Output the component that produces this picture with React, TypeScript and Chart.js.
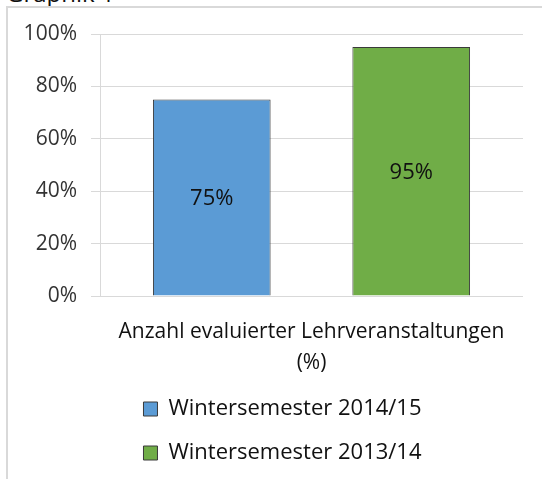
import React, { useEffect, useRef } from "react";
import { Chart, registerables } from "chart.js";

Chart.register(...registerables);

const categories = [["Anzahl evaluierter Lehrveranstaltungen", "(%)"]];
const seriesNames = ["Wintersemester 2014/15", "Wintersemester 2013/14"];
const ws1415 = [75];
const ws1314 = [95];
const yMin = 0;
const yMax = 100;
const yStep = 20;
const caption = "Graphik 1";

const FONT = '"Open Sans", "DejaVu Sans", sans-serif';

const dataLabelPlugin = {
  id: "barValueLabels",
  afterDatasetsDraw(chart: any) {
    const ctx = chart.ctx;
    ctx.save();
    ctx.font = `22px ${FONT}`;
    ctx.fillStyle = "#111";
    ctx.textAlign = "center";
    ctx.textBaseline = "middle";
    chart.data.datasets.forEach((ds: any, i: number) => {
      const meta = chart.getDatasetMeta(i);
      meta.data.forEach((el: any, j: number) => {
        const p = el.getProps(["x", "y", "base"], true);
        ctx.fillText(`${ds.data[j]}%`, p.x, (p.y + p.base) / 2 + 1);
      });
    });
    ctx.restore();
  },
};

const legendShiftPlugin = {
  id: "legendShift",
  afterLayout(chart: any) {
    if (chart.legend) {
      chart.legend.left = 42;
    }
  },
};

export default function App() {
  const ref = useRef<HTMLCanvasElement | null>(null);

  useEffect(() => {
    if (!ref.current) return;
    const chart = new Chart(ref.current, {
      type: "bar",
      data: {
        labels: categories,
        datasets: [
          {
            label: seriesNames[0],
            data: ws1415,
            backgroundColor: "#5b9bd5",
            borderColor: "#3a3a3a",
            borderWidth: 1,
          },
          {
            label: seriesNames[1],
            data: ws1314,
            backgroundColor: "#70ad47",
            borderColor: "#3a3a3a",
            borderWidth: 1,
          },
        ],
      },
      options: {
        responsive: false,
        animation: false,
        layout: { padding: { left: 0, right: 19, top: 34, bottom: 5 } },
        datasets: {
          bar: { categoryPercentage: 0.943, barPercentage: 0.59 },
        },
        scales: {
          x: {
            grid: { display: false, drawTicks: false },
            border: { display: false },
            ticks: {
              padding: 20,
              color: "#111",
              font: { family: FONT, size: 21, lineHeight: 1.5 },
              maxRotation: 0,
            },
            afterFit: (s: any) => {
              s.height = 80;
            },
          },
          y: {
            min: yMin,
            max: yMax,
            ticks: {
              stepSize: yStep,
              padding: 14,
              color: "#333",
              font: { family: FONT, size: 21 },
              callback: (v: any) => `${v}%`,
            },
            grid: { color: "#d9d9d9", tickLength: 9, lineWidth: 1 },
            border: { color: "#d9d9d9", width: 1 },
            afterFit: (s: any) => {
              s.width = 100;
            },
          },
        },
        plugins: {
          legend: {
            position: "bottom",
            labels: {
              boxWidth: 14,
              boxHeight: 14,
              padding: 22,
              color: "#111",
              font: { family: FONT, size: 22 },
            },
          },
          tooltip: { enabled: false },
        },
      },
      plugins: [dataLabelPlugin, legendShiftPlugin],
    });
    return () => chart.destroy();
  }, []);

  return (
    <div style={{ position: "fixed", left: 0, top: 0, width: 542, height: 479, background: "#fff", overflow: "hidden" }}>
      <div
        style={{
          position: "absolute",
          left: 6,
          top: -19,
          fontFamily: FONT,
          fontSize: 24,
          lineHeight: "24px",
          color: "#111",
          whiteSpace: "nowrap",
        }}
      >
        {caption}
      </div>
      <div
        style={{
          position: "absolute",
          left: 6,
          top: 6,
          right: 0,
          bottom: 0,
          borderLeft: "2px solid #d9d9d9",
          borderTop: "2px solid #d9d9d9",
        }}
      />
      <canvas ref={ref} width={542} height={479} style={{ position: "absolute", left: 0, top: 0 }} />
    </div>
  );
}
